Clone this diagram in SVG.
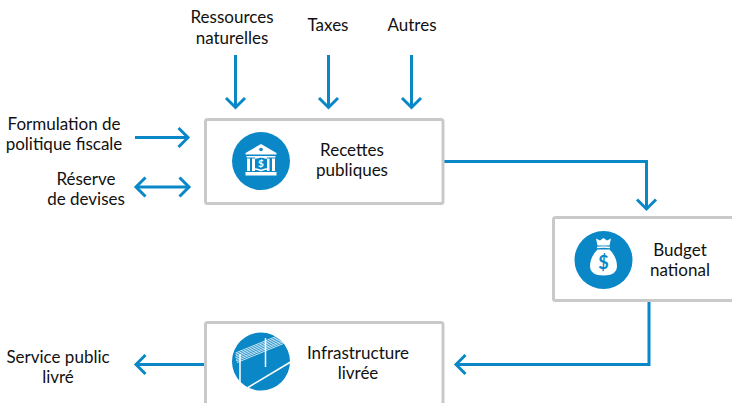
<svg xmlns="http://www.w3.org/2000/svg" width="732" height="403" viewBox="0 0 732 403">
<style>
text{font-family:Lato,"Open Sans","Liberation Sans",sans-serif;font-size:17px;fill:#111;text-anchor:middle}
.box{fill:#fff;stroke:#c9c9c9;stroke-width:3}
.c{fill:#0a87c6}
.l{fill:none;stroke:#0a87c6;stroke-width:3}
.w{fill:#fff}
.ws{fill:none;stroke:#fff}
</style>
<defs>
<marker id="a" viewBox="-12 -10 14 20" refX="0" refY="0" markerWidth="14" markerHeight="20" markerUnits="userSpaceOnUse" orient="auto-start-reverse" overflow="visible">
<path d="M-9.500-9.500L0 0L-9.500 9.500" fill="none" stroke="#0a87c6" stroke-width="3"/>
</marker>
</defs>
<g id="connectors">
<path class="l" d="M235.500 55V107.500" marker-end="url(#a)"/>
<path class="l" d="M328.500 55V107.500" marker-end="url(#a)"/>
<path class="l" d="M411.500 55V107.500" marker-end="url(#a)"/>
<path class="l" d="M135 137.500H188" marker-end="url(#a)"/>
<path class="l" d="M136 187H189" marker-start="url(#a)" marker-end="url(#a)"/>
<path class="l" d="M444 161.500H646.500V209" marker-end="url(#a)"/>
<path class="l" d="M649 301V364.500H456" marker-end="url(#a)"/>
<path class="l" d="M204 364.500H136" marker-end="url(#a)"/>
</g>
<g id="ressources"><text x="232" y="22.700">Ressources</text><text x="232" y="43.700">naturelles</text></g>
<g id="taxes"><text x="328" y="30.700">Taxes</text></g>
<g id="autres"><text x="412" y="30.700">Autres</text></g>
<g id="formulation"><text x="64" y="129.700">Formulation de</text><text x="64" y="149.700">politique fiscale</text></g>
<g id="reserve"><text x="86" y="184.700">Réserve</text><text x="86" y="204.700">de devises</text></g>
<g id="service"><text x="58" y="362.700">Service public</text><text x="58" y="382.700">livré</text></g>
<g id="recettes">
<rect class="box" x="205.500" y="119.500" width="237.500" height="84" rx="2"/>
<circle class="c" cx="261" cy="161" r="29"/>
<path class="w" d="M261 144L245.500 153V154.500H276.500V153Z"/>
<circle cx="261" cy="149.500" r="1.800" fill="#0a87c6"/>
<path class="w" d="M246.500 156H275.500V157.500H246.500ZM247 158.500H250V171H247ZM252 158.500H255V171H252ZM267 158.500H269.500V171H267ZM272 158.500H275V171H272ZM245.500 172H276.500V175.500H245.500Z"/>
<path class="ws" stroke-width="1.500" d="M255 158C258 158 260 156.500 261 156.500C262 156.500 264 158 267 158M255 169C258 169 260 170.500 261 170.500C262 170.500 264 169 267 169"/>
<text x="261" y="167" style="font-size:10px;font-weight:700;fill:#fff">$</text>
<text x="352" y="155.700">Recettes</text><text x="352" y="175.700">publiques</text>
</g>
<g id="budget">
<rect class="box" x="553.500" y="217.500" width="182" height="83" rx="2"/>
<circle class="c" cx="603.500" cy="260" r="29"/>
<path class="w" d="M596 238.500L600 240.500L603.500 238L607 240.500L611 238.500L609.500 245.500H597.500Z"/>
<path class="ws" stroke-width="1.300" d="M597 247.500Q603.500 246.500 610 247.500"/>
<path class="w" d="M597.500 249.500H609.500C614 254 617 260 617 266C617 272.500 612 275.500 603.500 275.500C595 275.500 590 272.500 590 266C590 260 593 254 597.500 249.500Z"/>
<text x="603.500" y="269" style="font-size:18px;font-weight:700;fill:#0a87c6">$</text>
<text x="680" y="255.700">Budget</text><text x="680" y="275.700">national</text>
</g>
<g id="infrastructure">
<rect class="box" x="205.500" y="322.500" width="237.500" height="90" rx="2"/>
<circle class="c" cx="261" cy="361.500" r="29"/>
<path class="ws" stroke-width="0.800" d="M235.500 353L281 334.500M235.500 354.600L281.500 336M235.500 356.200L282 337.500M235.500 357.800L282.500 339M236 359.400L283 340.500M236 361L283 342M237 362.500L283.500 343.500"/>
<path class="ws" stroke-width="1.500" d="M240 354V384M265.500 338V367"/>
<path class="ws" stroke-width="1.500" d="M248 387.500L290.500 362"/>
<text x="358" y="358.700">Infrastructure</text><text x="358" y="378.700">livrée</text>
</g>
</svg>
